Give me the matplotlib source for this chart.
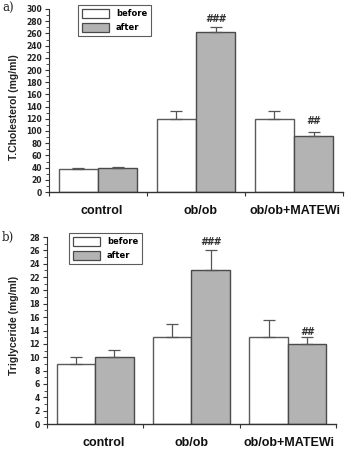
import matplotlib
matplotlib.use("Agg")
import matplotlib.pyplot as plt
import numpy as np
from matplotlib.patches import Patch
from matplotlib.ticker import MultipleLocator

groups = ["control", "ob/ob", "ob/ob+MATEWi"]
series = ["before", "after"]

chol_before = [37, 120, 119]
chol_before_err = [3, 12, 13]
chol_after = [40, 262, 91]
chol_after_err = [1.5, 9, 8]
chol_marks = ["", "###", "##"]

tg_before = [9, 13, 13]
tg_before_err = [1, 2, 2.6]
tg_after = [10, 23, 12]
tg_after_err = [1.1, 3, 1]
tg_marks = ["", "###", "##"]

W, H = 347, 449
fig = plt.figure(figsize=(W / 100, H / 100), dpi=100)
plt.rcParams['font.family'] = ['Liberation Sans', 'DejaVu Sans']

EDGE = "#4a4a4a"
GRAY = "#b3b3b3"


def panel(rect, before, berr, after, aerr, marks, mark_offs, ymax, ystep, yminor,
          ylabel, letter, letter_xy, leg_xy, ylabel_xy, label_offs):
    ax = fig.add_axes(rect)
    x = np.arange(len(groups))
    bw = 0.4
    ax.bar(x - bw / 2, before, bw, color="white", edgecolor="#5a5a5a", linewidth=1.0, zorder=2)
    ax.bar(x + bw / 2, after, bw, color=GRAY, edgecolor=EDGE, linewidth=1.0, zorder=2)
    ax.errorbar(x - bw / 2, before, yerr=[np.zeros(3), berr], fmt="none",
                ecolor="#555555", elinewidth=0.9, capsize=4, capthick=0.9, zorder=3)
    ax.errorbar(x + bw / 2, after, yerr=[np.zeros(3), aerr], fmt="none",
                ecolor="#555555", elinewidth=0.9, capsize=4, capthick=0.9, zorder=3)
    for i, m in enumerate(marks):
        if m:
            ax.annotate(m, (x[i] + bw / 2, after[i] + aerr[i]),
                        xytext=(0, mark_offs[i]), textcoords="offset points",
                        ha="center", va="center", fontsize=7, fontweight="bold",
                        style="italic", family="DejaVu Sans", color="#333333")
    ax.set_xlim(-0.5, len(groups) - 0.5)
    ax.set_ylim(0, ymax)
    ax.yaxis.set_major_locator(MultipleLocator(ystep))
    ax.yaxis.set_minor_locator(MultipleLocator(yminor))
    ax.set_xticks(np.arange(len(groups) + 1) - 0.5)
    ax.set_xticklabels([])
    ax.tick_params(axis="x", length=3, width=0.8, color="#333333")
    ax.tick_params(axis="y", which="major", length=3, width=0.8, labelsize=5.5,
                   pad=2, color="#333333")
    ax.tick_params(axis="y", which="minor", length=2, width=0.6, color="#333333")
    for lab in ax.get_yticklabels():
        lab.set_fontweight("bold")
        lab.set_family("DejaVu Sans")
        lab.set_color("#222222")
    for s in ["top", "right"]:
        ax.spines[s].set_visible(False)
    ax.spines["left"].set_color("#333333")
    ax.spines["bottom"].set_color("#333333")
    ax.spines["left"].set_linewidth(0.8)
    ax.spines["bottom"].set_linewidth(1.0)
    for i, g in enumerate(groups):
        ax.annotate(g, (i, 0), xycoords=ax.get_xaxis_transform(),
                    xytext=(label_offs[i], -13.5), textcoords="offset points",
                    ha="center", va="center", fontsize=9, fontweight="bold",
                    color="#111111")
    fig.text(ylabel_xy[0], ylabel_xy[1], ylabel, rotation=90, ha="center", va="center",
             fontsize=7.5, fontweight="bold", color="#222222")
    fig.text(letter_xy[0], letter_xy[1], letter, ha="left", va="center",
             fontsize=8.5, family="DejaVu Serif", color="#222222")
    handles = [Patch(facecolor="white", edgecolor=EDGE, linewidth=0.9),
               Patch(facecolor=GRAY, edgecolor=EDGE, linewidth=0.9)]
    leg = ax.legend(handles, series, loc="upper left", bbox_to_anchor=leg_xy,
                    bbox_transform=fig.transFigure, borderaxespad=0,
                    prop={"size": 6, "weight": "bold", "family": "DejaVu Sans"},
                    frameon=True, fancybox=False, edgecolor="#333333",
                    handlelength=3.3, handleheight=1.4, labelspacing=0.5,
                    borderpad=0.45, handletextpad=0.8)
    leg.get_frame().set_linewidth(0.8)
    return ax


panel([49 / W, 1 - 192 / H, (343 - 49) / W, (192 - 9) / H],
      chol_before, chol_before_err, chol_after, chol_after_err, chol_marks,
      [0, 5.5, 7.5],
      300, 20, 10, "T.Cholesterol (mg/ml)", "a)", (2 / W, 1 - 8 / H),
      (78 / W, 1 - 5 / H), (14 / W, 1 - 107 / H), [3, 3, 1])

panel([47 / W, 1 - 424 / H, (336 - 47) / W, (424 - 237) / H],
      tg_before, tg_before_err, tg_after, tg_after_err, tg_marks,
      [0, 6, 4],
      28, 2, 1, "Triglyceride (mg/ml)", "b)", (2 / W, 1 - 237 / H),
      (69 / W, 1 - 233 / H), (14 / W, 1 - 325 / H), [6, 0, 1])

fig.savefig("out.png", dpi=100)
